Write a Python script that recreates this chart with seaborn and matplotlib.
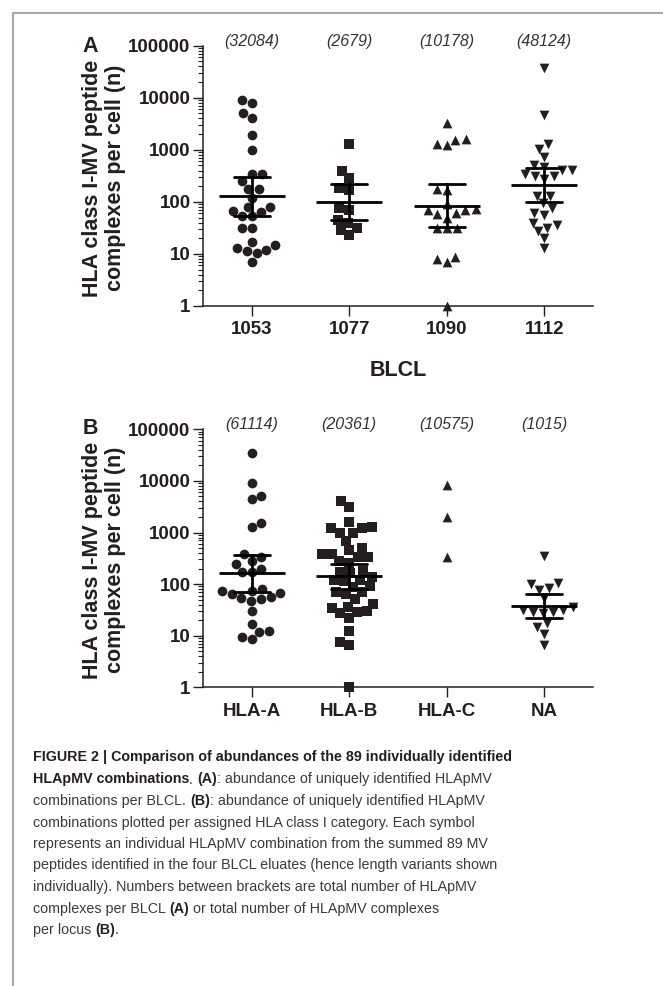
import math
import numpy as np
import pandas as pd
import matplotlib
matplotlib.use("Agg")
import matplotlib.pyplot as plt
import matplotlib.transforms as mtransforms
from matplotlib.lines import Line2D
from matplotlib.ticker import LogLocator, NullFormatter
import seaborn as sns

# ---------------- data ----------------
blcl_labels = ["1053", "1077", "1090", "1112"]
blcl_counts = ["(32084)", "(2679)", "(10178)", "(48124)"]
vals_1053 = [9100, 8100, 5100, 4100, 1900, 990, 340, 340, 250, 180, 180, 120, 80, 80,
             67, 63, 54, 54, 32, 32, 17, 15, 13, 12, 11.4, 10.3, 7.1]
vals_1077 = [1290, 390, 290, 187, 170, 75, 70, 45, 39, 31, 29, 23]
vals_1090 = [3300, 1600, 1550, 1270, 1230, 174, 168, 91, 73, 70, 70, 62, 58, 50,
             32, 32, 32, 8.8, 7.9, 6.9, 1]
vals_1112 = [36500, 4600, 1270, 1050, 734, 508, 472, 408, 408, 342, 317, 317, 274,
             131, 131, 94, 75, 62, 56, 40, 36, 31, 27.5, 19.9, 12.8]

hla_labels = ["HLA-A", "HLA-B", "HLA-C", "NA"]
hla_counts = ["(61114)", "(20361)", "(10575)", "(1015)"]
vals_hla_a = [35200, 9230, 5160, 4520, 1510, 1300, 383, 330, 284, 245, 194, 169, 169,
              80, 75, 73, 68, 64, 55, 53, 51, 47, 30.5, 16.6, 12.3, 11.6, 9.6, 8.5]
vals_hla_b = [4130, 3160, 1620, 1295, 1240, 1206, 964, 964, 693, 494, 458, 383, 383,
              330, 330, 284, 260, 182, 174, 166, 140, 120, 120, 115, 92, 89, 71, 69,
              64, 51, 42, 36.5, 34, 30, 29, 27, 21.7, 12.3, 7.65, 6.6, 1]
vals_hla_c = [8200, 2000, 340]
vals_na = [351, 104, 100, 83, 77, 53, 36.5, 31.5, 31.5, 29, 29, 27, 17.9, 14.9, 10.8, 6.6]

y_ticks = [1, 10, 100, 1000, 10000, 100000]
y_tick_labels = ["1", "10", "100", "1000", "10000", "100000"]
y_label = "HLA class I-MV peptide\ncomplexes per cell (n)"

caption_lines = [
    [("FIGURE 2 | Comparison of abundances of the 89 individually identified", True)],
    [("HLApMV combinations", True), (". ", False), ("(A)", True),
     (": abundance of uniquely identified HLApMV", False)],
    [("combinations per BLCL. ", False), ("(B)", True),
     (": abundance of uniquely identified HLApMV", False)],
    [("combinations plotted per assigned HLA class I category. Each symbol", False)],
    [("represents an individual HLApMV combination from the summed 89 MV", False)],
    [("peptides identified in the four BLCL eluates (hence length variants shown", False)],
    [("individually). Numbers between brackets are total number of HLApMV", False)],
    [("complexes per BLCL ", False), ("(A)", True),
     (" or total number of HLApMV complexes", False)],
    [("per locus ", False), ("(B)", True), (".", False)],
]

# ---------------- style ----------------
sns.set_theme(style="ticks")
plt.rcParams["font.family"] = ["Liberation Sans", "DejaVu Sans"]
INK = "#231f20"

W, H = 663, 986
fig = plt.figure(figsize=(W / 100, H / 100), dpi=100)
fig.patch.set_facecolor("white")


def t_quantile(p, df):
    c = math.exp(math.lgamma((df + 1) / 2) - math.lgamma(df / 2)) / math.sqrt(df * math.pi)

    def cdf(t):
        xs = np.linspace(0, t, 4001)
        return 0.5 + np.trapezoid(c * (1 + xs ** 2 / df) ** (-(df + 1) / 2), xs)

    lo, hi = 0.0, 50.0
    for _ in range(60):
        mid = (lo + hi) / 2
        if cdf(mid) < p:
            lo = mid
        else:
            hi = mid
    return (lo + hi) / 2


def ci95_t(v):
    v = np.asarray(v, dtype=float)
    n = len(v)
    m = v.mean()
    se = v.std(ddof=1) / math.sqrt(n)
    t = t_quantile(0.975, n - 1)
    return m - t * se, m + t * se


def make_panel(rect, labels, groups, markers, counts, stat_mask, xlabel):
    ax = fig.add_axes(rect)
    ax.set_yscale("log")
    ax.set_facecolor("white")
    for lab, vals, mk in zip(labels, groups, markers):
        df = pd.DataFrame({"cat": lab, "val": vals})
        sns.swarmplot(data=df, x="cat", y="val", order=labels, marker=mk, color=INK,
                      size=7.0, linewidth=0, ax=ax, clip_on=False, zorder=3)
    stat_df = pd.concat([pd.DataFrame({"cat": lab, "val": vals})
                         for lab, vals, keep in zip(labels, groups, stat_mask) if keep])
    sns.pointplot(data=stat_df, x="cat", y="val", order=labels, estimator="mean",
                  errorbar=ci95_t, color="black", markers="_", markersize=48,
                  markeredgewidth=2.0, linestyle="none", linewidth=2.0, capsize=0.37,
                  err_kws={"linewidth": 2.0, "zorder": 5}, ax=ax, zorder=5)
    for coll in ax.collections:
        coll.set_clip_on(False)
    ax.set_ylim(1, 1e5)
    ax.set_xlim(-0.5, 3.5)
    ax.set_yticks(y_ticks, labels=y_tick_labels, fontsize=13.5, fontweight="bold",
                  color=INK)
    ax.yaxis.set_minor_locator(LogLocator(base=10, subs=np.arange(2, 10), numticks=20))
    ax.yaxis.set_minor_formatter(NullFormatter())
    ax.set_xticks(range(len(labels)), labels=labels, fontsize=13.5, fontweight="bold",
                  color=INK)
    ax.tick_params(axis="y", which="major", length=7, width=1.0, pad=2, color=INK,
                   direction="out")
    ax.tick_params(axis="y", which="minor", length=3.5, width=0.8, color=INK,
                   direction="out")
    ax.tick_params(axis="x", which="major", length=7, width=1.0, pad=4, color=INK,
                   direction="out")
    for side in ["top", "right"]:
        ax.spines[side].set_visible(False)
    for side in ["left", "bottom"]:
        ax.spines[side].set_color(INK)
        ax.spines[side].set_linewidth(1.1)
    ax.set_ylabel("")
    if xlabel:
        ax.set_xlabel(xlabel, fontsize=15.5, fontweight="bold", color=INK, labelpad=16)
    else:
        ax.set_xlabel("")
    trans = mtransforms.blended_transform_factory(ax.transData, ax.transAxes)
    for i, c in enumerate(counts):
        ax.text(i, 1.0 + 4.5 / 260, c, transform=trans, ha="center", va="center",
                fontsize=11.5, style="italic", color="#333333")
    return ax


axA = make_panel([203 / W, 1 - 306 / H, 390 / W, 260.3 / H], blcl_labels,
                 [vals_1053, vals_1077, vals_1090, vals_1112], ["o", "s", "^", "v"],
                 blcl_counts, [True, True, True, True], "BLCL")
axB = make_panel([203 / W, 1 - 687.3 / H, 390 / W, 258 / H], hla_labels,
                 [vals_hla_a, vals_hla_b, vals_hla_c, vals_na], ["o", "s", "^", "v"],
                 hla_counts, [True, True, False, True], None)

# panel letters and y labels
for letter, ly, ycen in [("A", 46.7, 178), ("B", 428, 560)]:
    fig.text(90 / W, 1 - ly / H, letter, fontsize=15.5, fontweight="bold", color=INK,
             ha="center", va="center")
    fig.text(104 / W, 1 - ycen / H, y_label, fontsize=15.5, fontweight="bold",
             color=INK, rotation=90, ha="center", va="center", multialignment="center",
             linespacing=1.12)

# frame
fig.add_artist(Line2D([13 / W, 13 / W], [0, 1 - 13 / H], transform=fig.transFigure,
                      color="#a8a8a8", lw=1.5))
fig.add_artist(Line2D([13 / W, 1], [1 - 13 / H, 1 - 13 / H], transform=fig.transFigure,
                      color="#a8a8a8", lw=1.5))

# caption
CAP_FONT = ["Liberation Sans Narrow", "Liberation Sans", "DejaVu Sans"]
fig.canvas.draw()
renderer = fig.canvas.get_renderer()


def seg_width(txt, bold, fs):
    kw = dict(fontsize=fs, fontweight="bold" if bold else "normal", family=CAP_FONT)
    t1 = fig.text(0, 0, txt + "|", **kw)
    w1 = t1.get_window_extent(renderer).width
    t1.remove()
    t2 = fig.text(0, 0, "|", **kw)
    w2 = t2.get_window_extent(renderer).width
    t2.remove()
    return w1 - w2


ref_w = seg_width(caption_lines[5][0][0], False, 10)
cap_fs = 10 * 462 / ref_w
line_y = [757.3, 779.5, 801.0, 822.5, 844.0, 865.5, 887.0, 908.5, 930.0]
for segs, yp in zip(caption_lines, line_y):
    x = 33.0
    for txt, bold in segs:
        fig.text(x / W, 1 - yp / H, txt, fontsize=cap_fs,
                 fontweight="bold" if bold else "normal", family=CAP_FONT,
                 color=INK if bold else "#3a3a3a", ha="left", va="center")
        x += seg_width(txt, bold, cap_fs)

fig.savefig("out.png", dpi=100, facecolor="white")
